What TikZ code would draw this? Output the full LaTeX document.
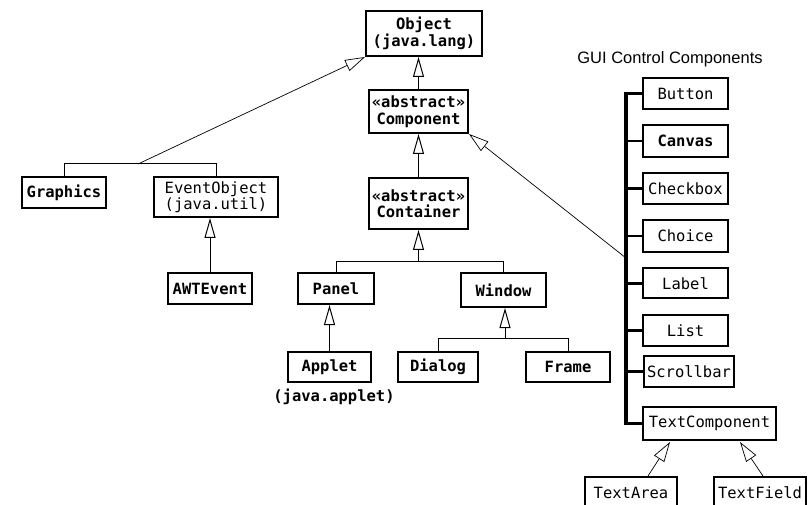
\documentclass[tikz,border=0pt]{standalone}
\usepackage{fontspec}
\setmonofont{DejaVu Sans Mono}
\setsansfont{Liberation Sans}
\usetikzlibrary{arrows.meta}
\begin{document}
\begin{tikzpicture}[x=1pt,y=-1pt,
  box/.style={draw, line width=2pt, inner sep=0pt, align=center,
    font=\ttfamily\fontsize{15.5}{16.5}\selectfont},
  bbox/.style={box, font=\ttfamily\bfseries\fontsize{15.5}{16.5}\selectfont},
  gen/.style={line width=1pt, -{Triangle[open,length=20pt,width=11pt]}},
  gend/.style={line width=0.7pt, -{Triangle[open,length=20pt,width=12pt]}},
  link/.style={line width=1pt},
  bus/.style={line width=3.5pt},
  branch/.style={line width=2.5pt},
  note/.style={inner sep=0pt, font=\ttfamily\bfseries\fontsize{15.5}{16.5}\selectfont},
  heading/.style={inner sep=0pt, font=\sffamily\fontsize{16.5}{18}\selectfont}
]
\useasboundingbox (0,0) rectangle (809,505);
\clip (0,0) rectangle (809,505);
\fill[white] (0,0) rectangle (809,505);

% left / centre hierarchy
\node[bbox, minimum width=116pt, minimum height=45pt] (obj) at (424,33.5) {Object\\(java.lang)};
\node[bbox, minimum width=99pt, minimum height=43pt] (comp) at (418.5,111.5) {«abstract»\\Component};
\node[bbox, minimum width=99pt, minimum height=51pt] (cont) at (418.5,203.5) {«abstract»\\Container};
\node[bbox, minimum width=84pt, minimum height=31pt] (gfx) at (64,192.5) {Graphics};
\node[box, minimum width=124pt, minimum height=40pt] (eo) at (216,197) {EventObject\\(java.util)};
\node[bbox, minimum width=84pt, minimum height=31pt] (awt) at (210,288.5) {AWTEvent};
\node[bbox, minimum width=76pt, minimum height=31pt] (panel) at (336,288.5) {Panel};
\node[bbox, minimum width=85pt, minimum height=34pt] (win) at (503.5,290) {Window};
\node[bbox, minimum width=83pt, minimum height=30pt] (applet) at (329.5,367) {Applet};
\node[bbox, minimum width=80pt, minimum height=30pt] (dlg) at (438,367) {Dialog};
\node[bbox, minimum width=84pt, minimum height=30pt] (frm) at (568,367) {Frame};
\node[note] (pkg) at (334,397) {(java.applet)};

% GUI control components
\node[heading] (head) at (670,59) {GUI Control Components};
\node[box, minimum width=85pt, minimum height=31pt] (btn) at (685.5,93.5) {Button};
\node[bbox, minimum width=85pt, minimum height=32pt] (cnv) at (685.5,141) {Canvas};
\node[box, minimum width=85pt, minimum height=31pt] (chk) at (685.5,188.5) {Checkbox};
\node[box, minimum width=85pt, minimum height=32pt] (cho) at (685.5,236) {Choice};
\node[box, minimum width=85pt, minimum height=30pt] (lbl) at (685.5,283.5) {Label};
\node[box, minimum width=85pt, minimum height=31pt] (lst) at (685.5,330.5) {List};
\node[box, minimum width=90pt, minimum height=31pt] (scr) at (689,371.5) {Scrollbar};
\node[box, minimum width=133pt, minimum height=33pt] (tc) at (709.5,423.5) {TextComponent};
\node[box, minimum width=92pt, minimum height=31pt] (ta) at (631,492.5) {TextArea};
\node[box, minimum width=92pt, minimum height=31pt] (tf) at (760,492.5) {TextField};

% junction coordinates
\coordinate (j1) at (138,164);
\coordinate (j2) at (418.5,262);
\coordinate (j3) at (505,338);
\coordinate (bt) at (626,93.5);
\coordinate (bb) at (626,423.5);
\coordinate (bd) at (626,258);
\coordinate (tas) at (648,476);
\coordinate (tat) at (670,442);
\coordinate (tfs) at (763,476);
\coordinate (tft) at (740,442);

% generalisation connectors
\draw[gen] (comp.north) -- (comp.north |- obj.south);
\draw[gen] (cont.north) -- (comp.south);
\draw[link] (gfx.north) -- (gfx.north |- j1) -- (eo.north |- j1) -- (eo.north);
\draw[gend] (j1) -- (obj.south west);
\draw[gen] (awt.north) -- (awt.north |- eo.south);
\draw[link] (panel.north) -- (panel.north |- j2) -- (win.north |- j2) -- (win.north);
\draw[gen] (j2) -- (cont.south);
\draw[gen] (applet.north) -- (applet.north |- panel.south);
\draw[link] (dlg.north) -- (dlg.north |- j3) -- (frm.north |- j3) -- (frm.north);
\draw[gen] (j3) -- (j3 |- win.south);

% bus of GUI components
\draw[bus] (btn.west) -- (bt) -- (bb) -- (tc.west);
\draw[branch] (bt |- cnv.west) -- (cnv.west);
\draw[branch] (bt |- chk.west) -- (chk.west);
\draw[branch] (bt |- cho.west) -- (cho.west);
\draw[branch] (bt |- lbl.west) -- (lbl.west);
\draw[branch] (bt |- lst.west) -- (lst.west);
\draw[branch] (bt |- scr.west) -- (scr.west);
\draw[gend] (bd) -- (comp.south east);
\draw[gend] (tas) -- (tat);
\draw[gend] (tfs) -- (tft);
\end{tikzpicture}
\end{document}
